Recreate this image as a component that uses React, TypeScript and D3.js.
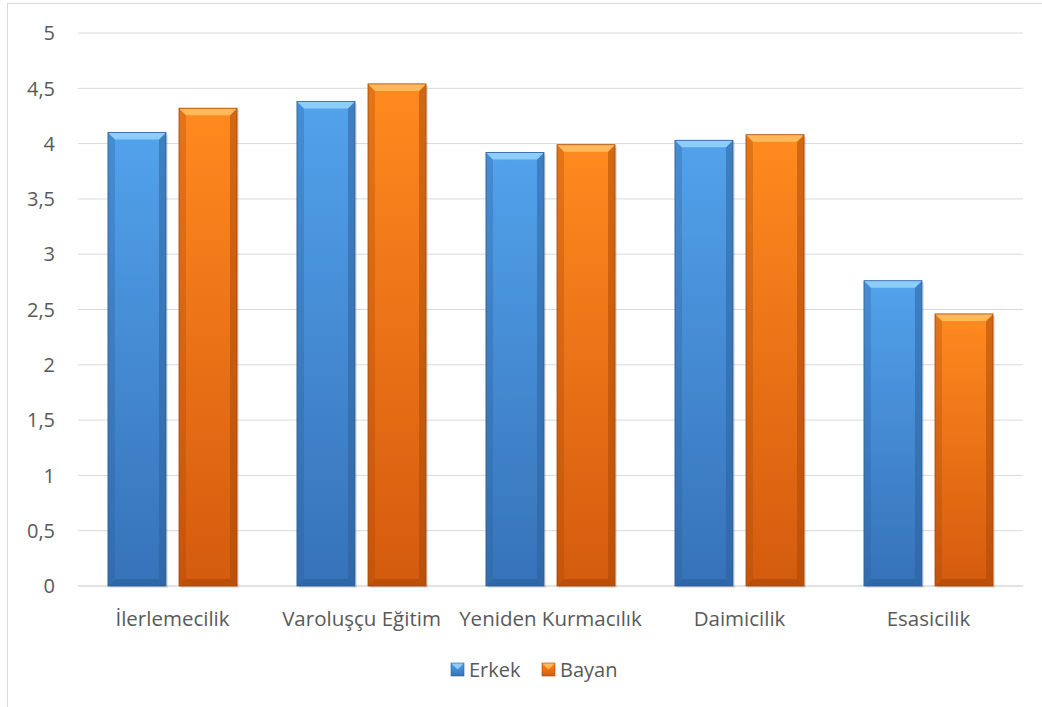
// Grouped bar chart (Erkek / Bayan) with bevelled bars, drawn with d3 scales.

import * as d3 from "d3";

const categories = [
  "İlerlemecilik",
  "Varoluşçu Eğitim",
  "Yeniden Kurmacılık",
  "Daimicilik",
  "Esasicilik",
];
const erkek = [4.1, 4.38, 3.92, 4.03, 2.76];
const bayan = [4.32, 4.54, 3.99, 4.08, 2.46];
const seriesNames = ["Erkek", "Bayan"];
const yTicks = [0, 0.5, 1, 1.5, 2, 2.5, 3, 3.5, 4, 4.5, 5];

const palette = [
  { top: "#52a2ec", bottom: "#3672b8", light: "#8ccdfa", dark: "#2b5d98" },
  { top: "#ff8a1f", bottom: "#d35b0e", light: "#ffb85a", dark: "#a54608" },
];

const width = 1042;
const height = 707;
const [marginTop, marginRight, marginBottom, marginLeft] = [33, 19, 121, 78];
const font = "'Open Sans', sans-serif";
const textColor = "#595959";

function Bar(props: { x: number; y: number; w: number; h: number; s: number }) {
  const { x, y, w, h, s } = props;
  const c = palette[s];
  const b = Math.min(7, h / 2); // bevel size
  return (
    <g>
      <rect x={x + 2} y={y + 2} width={w} height={h} fill="#000" opacity={0.1} />
      <rect x={x} y={y} width={w} height={h} fill={`url(#grad${s})`} />
      {/* left / right edges */}
      <polygon
        points={`${x},${y} ${x + b},${y + b} ${x + b},${y + h - b} ${x},${y + h}`}
        fill={c.dark}
        opacity={0.3}
      />
      <polygon
        points={`${x + w},${y} ${x + w - b},${y + b} ${x + w - b},${y + h - b} ${x + w},${y + h}`}
        fill={c.dark}
        opacity={0.5}
      />
      {/* top bevel */}
      <polygon
        points={`${x},${y} ${x + w},${y} ${x + w - b},${y + b} ${x + b},${y + b}`}
        fill={c.light}
      />
      {/* bottom bevel */}
      <polygon
        points={`${x},${y + h} ${x + w},${y + h} ${x + w - b},${y + h - b} ${x + b},${y + h - b}`}
        fill={c.dark}
        opacity={0.55}
      />
      <rect x={x} y={y} width={w} height={h} fill="none" stroke={c.dark} strokeWidth={0.8} />
    </g>
  );
}

export default function App() {
  const scaleX = d3
    .scaleBand<string>()
    .domain(categories)
    .range([marginLeft, width - marginRight]);
  const inner = d3
    .scaleBand<number>()
    .domain([0, 1])
    .range([0, scaleX.bandwidth() * 0.683])
    .paddingInner(0.183);
  const scaleY = d3.scaleLinear([0, 5], [height - marginBottom, marginTop]);
  const groupW = inner.range()[1];

  return (
    <svg
      width={width}
      height={height}
      style={{ position: "absolute", left: 0, top: 0, background: "#fff" }}
      fontFamily={font}
    >
      <defs>
        {palette.map((c, s) => (
          <linearGradient key={s} id={`grad${s}`} x1="0" y1="0" x2="0" y2="1">
            <stop offset="0%" stopColor={c.top} />
            <stop offset="100%" stopColor={c.bottom} />
          </linearGradient>
        ))}
      </defs>
      <rect x={7.5} y={3.5} width={width} height={height} fill="none" stroke="#d9d9d9" />

      {yTicks.map((t) => (
        <g key={t}>
          <line
            x1={marginLeft}
            x2={width - marginRight}
            y1={scaleY(t)}
            y2={scaleY(t)}
            stroke="#d9d9d9"
            strokeWidth={t === 0 ? 1.5 : 1}
          />
          <text
            x={55}
            y={scaleY(t)}
            dy="0.36em"
            textAnchor="end"
            fontSize={20}
            fill={textColor}
          >
            {String(t).replace(".", ",")}
          </text>
        </g>
      ))}

      {categories.map((c, i) => {
        const cx = (scaleX(c) as number) + scaleX.bandwidth() / 2;
        return (
          <g key={c}>
            {[erkek[i], bayan[i]].map((v, s) => (
              <Bar
                key={s}
                s={s}
                x={cx - groupW / 2 + (inner(s) as number)}
                y={scaleY(v)}
                w={inner.bandwidth()}
                h={scaleY(0) - scaleY(v)}
              />
            ))}
            <text x={cx} y={626} textAnchor="middle" fontSize={20.5} fill={textColor}>
              {c}
            </text>
          </g>
        );
      })}

      {seriesNames.map((n, s) => {
        const lx = s === 0 ? 451 : 542;
        const c = palette[s];
        return (
          <g key={n}>
            <rect x={lx} y={663} width={13} height={13} fill={`url(#grad${s})`} />
            <polygon
              points={`${lx},663 ${lx + 13},663 ${lx + 6.5},669.5`}
              fill={c.light}
            />
            <rect x={lx} y={663} width={13} height={13} fill="none" stroke={c.dark} strokeWidth={0.6} />
            <text x={lx + 18} y={677} fontSize={20} fill={textColor}>
              {n}
            </text>
          </g>
        );
      })}
    </svg>
  );
}
